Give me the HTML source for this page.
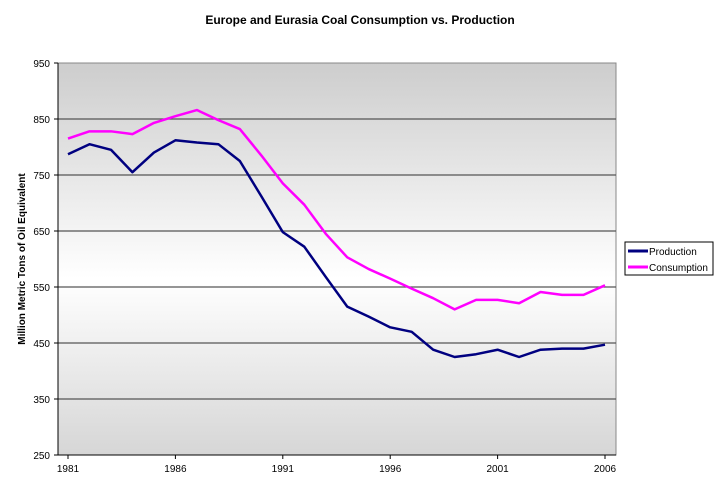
<!DOCTYPE html>
<html><head><meta charset="utf-8"><style>
body{margin:0;background:#fff;font-family:"Liberation Sans",sans-serif}
</style></head><body>
<svg width="720" height="492" xmlns="http://www.w3.org/2000/svg" font-family="Liberation Sans, sans-serif">
<defs><linearGradient id="bg" x1="0" y1="0" x2="0" y2="1">
<stop offset="0" stop-color="#cdcdcd"/><stop offset="0.55" stop-color="#ffffff"/><stop offset="1" stop-color="#d6d6d6"/></linearGradient></defs>
<text x="360" y="24" text-anchor="middle" font-size="12" font-weight="bold">Europe and Eurasia Coal Consumption vs. Production</text>
<rect x="58" y="63" width="558" height="392" fill="url(#bg)" stroke="#888"/>
<g id="grid"></g><g id="axes"></g><g id="series"></g>
<text transform="translate(25,259) rotate(-90)" text-anchor="middle" font-size="10" font-weight="bold">Million Metric Tons of Oil Equivalent</text>
<g>
<rect x="625" y="242" width="88" height="33" fill="#fff" stroke="#000"/>
<line x1="628" y1="251" x2="648" y2="251" stroke="#000080" stroke-width="3"/>
<text x="649" y="255" font-size="10">Production</text>
<line x1="628" y1="267" x2="648" y2="267" stroke="#ff00ff" stroke-width="3"/>
<text x="649" y="271" font-size="10">Consumption</text>
</g>
</svg>
<script>
const years=[1981,1982,1983,1984,1985,1986,1987,1988,1989,1990,1991,1992,1993,1994,1995,1996,1997,1998,1999,2000,2001,2002,2003,2004,2005,2006];
const production=[787,805,795,755,790,812,808,805,775,712,648,622,568,515,497,478,470,438,425,430,438,425,438,440,440,447];
const consumption=[815,828,828,823,843,855,866,848,832,785,735,697,645,603,582,565,547,530,510,527,527,521,541,536,536,553];
const yTicks=[250,350,450,550,650,750,850,950];
const xTicks=[1981,1986,1991,1996,2001,2006];
const NS="http://www.w3.org/2000/svg";
function x(yr){return 68+(yr-1981)*(605-68)/25;}
function y(v){return 455-(v-250)*392/700;}
function mk(t,a,p){const e=document.createElementNS(NS,t);for(const k in a)e.setAttribute(k,a[k]);p.appendChild(e);return e;}
const grid=document.getElementById('grid'),axes=document.getElementById('axes'),ser=document.getElementById('series');
yTicks.forEach(v=>{
 if(v>250&&v<950){const l=mk('line',{x1:58,x2:616,y1:y(v),y2:y(v),stroke:'#555','stroke-width':1.2},grid);
 
 }
 const t=mk('text',{x:50,y:y(v)+4,'text-anchor':'end','font-size':10},axes);t.textContent=v;
 
 
 mk('line',{x1:54,x2:58,y1:y(v),y2:y(v),stroke:'#000'},axes);
});
xTicks.forEach(yr=>{
 const t=mk('text',{x:x(yr),y:472,'text-anchor':'middle','font-size':10},axes);t.textContent=yr;
 
 
 mk('line',{x1:x(yr),x2:x(yr),y1:455,y2:459,stroke:'#000'},axes);
});
mk('line',{x1:58,x2:58,y1:63,y2:455,stroke:'#000'},axes);
mk('line',{x1:58,x2:616,y1:455,y2:455,stroke:'#000'},axes);
function line(vals,color,name){
 const p=mk('polyline',{points:vals.map((v,i)=>x(years[i])+','+y(v)).join(' '),fill:'none',stroke:color,'stroke-width':2.5,'stroke-linejoin':'round'},ser);
 
 
}
line(production,'#000080','production-line');
line(consumption,'#ff00ff','consumption-line');
</script>
</body></html>
